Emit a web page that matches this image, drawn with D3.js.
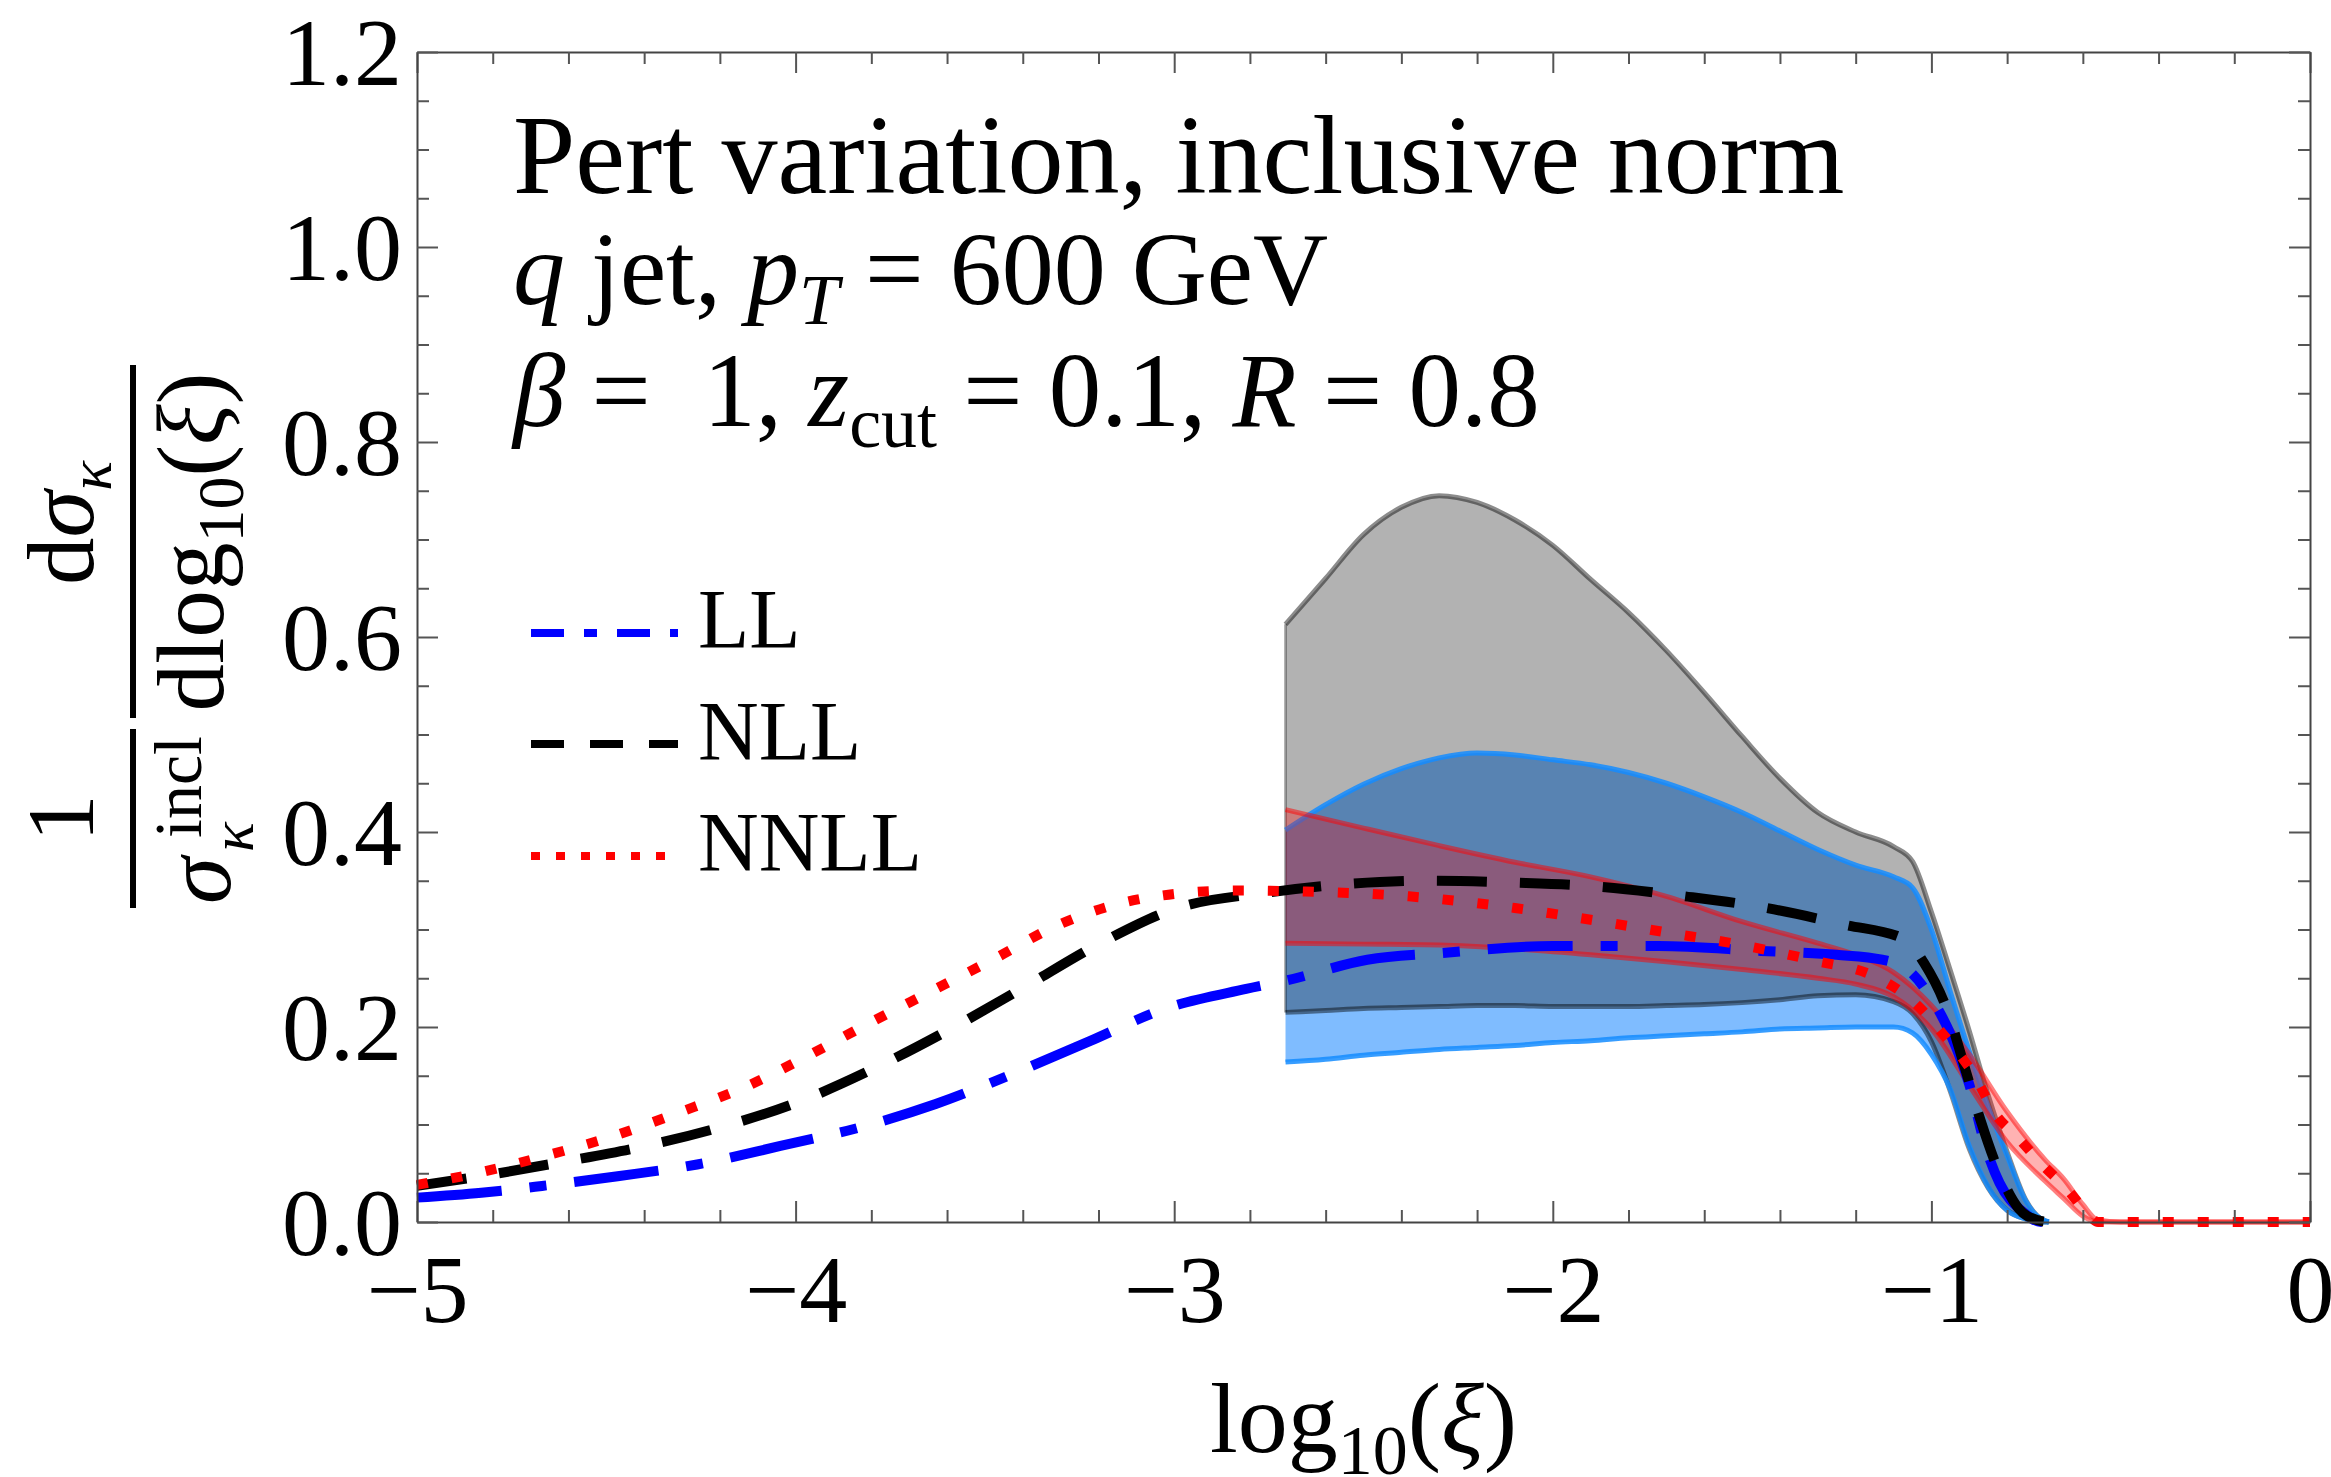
<!DOCTYPE html>
<html><head><meta charset="utf-8">
<script src="https://cdn.jsdelivr.net/npm/d3@7"></script>
<style>
body{margin:0;background:#fff}
svg{display:block}
text{font-family:"Liberation Serif","Times New Roman",serif;fill:#000}
</style>
</head><body>
<svg id="chart" width="2331" height="1477"></svg>
<script>
// ---------------- data ----------------
const xTickValues = [-5, -4, -3, -2, -1, 0];
const yTickValues = [0, 0.2, 0.4, 0.6, 0.8, 1.0, 1.2];
const seriesNames = ["LL", "NLL", "NNLL"];
const titleLines = ["Pert variation, inclusive norm"];

// central curves [log10(xi), value]
const llCurve = [[-5.0,0.025],[-4.83,0.030],[-4.67,0.037],[-4.47,0.047],[-4.26,0.059],[-4.04,0.078],[-3.83,0.097],[-3.63,0.121],[-3.42,0.153],[-3.22,0.186],[-3.03,0.218],[-2.81,0.239],[-2.70,0.248],[-2.49,0.269],[-2.29,0.276],[-2.0,0.283],[-1.72,0.283],[-1.45,0.278],[-1.25,0.274],[-1.13,0.269],[-1.06,0.258],[-1.01,0.235],[-0.95,0.193],[-0.90,0.141],[-0.856,0.076],[-0.82,0.040],[-0.76,0.011],[-0.71,0.0],[-0.69,0.0]];
const nllCurve = [[-5.0,0.037],[-4.83,0.047],[-4.61,0.062],[-4.42,0.076],[-4.20,0.097],[-4.0,0.122],[-3.79,0.158],[-3.60,0.196],[-3.40,0.240],[-3.19,0.287],[-3.0,0.321],[-2.75,0.338],[-2.53,0.347],[-2.33,0.350],[-2.10,0.348],[-1.88,0.344],[-1.65,0.334],[-1.45,0.323],[-1.23,0.305],[-1.07,0.290],[-1.02,0.266],[-0.96,0.219],[-0.91,0.156],[-0.87,0.104],[-0.82,0.050],[-0.77,0.014],[-0.72,0.002],[-0.69,0.0]];
const nnllCurve = [[-5.0,0.038],[-4.82,0.052],[-4.65,0.069],[-4.49,0.087],[-4.31,0.112],[-4.13,0.139],[-3.96,0.172],[-3.81,0.203],[-3.64,0.237],[-3.47,0.271],[-3.31,0.304],[-3.13,0.328],[-3.03,0.335],[-2.84,0.340],[-2.66,0.339],[-2.38,0.334],[-2.10,0.322],[-1.90,0.310],[-1.70,0.297],[-1.50,0.284],[-1.32,0.269],[-1.14,0.250],[-1.05,0.227],[-0.97,0.193],[-0.88,0.146],[-0.835,0.113],[-0.77,0.086],[-0.71,0.060],[-0.64,0.033],[-0.585,0.0075],[-0.56,0.0],[0.0,0.0]];

// uncertainty bands (LL = blue, NLL = gray)
const bandX    = [-2.706,-2.6,-2.5,-2.4,-2.3,-2.2,-2.1,-2.0,-1.9,-1.8,-1.7,-1.6,-1.5,-1.4,-1.3,-1.2,-1.1,-1.05,-1.0,-0.95,-0.9,-0.85,-0.8,-0.75,-0.72,-0.69];
const nllBandHi = [0.613,0.660,0.705,0.733,0.745,0.738,0.720,0.694,0.659,0.625,0.586,0.543,0.498,0.455,0.420,0.400,0.385,0.370,0.318,0.258,0.196,0.130,0.072,0.022,0.006,0.0];
const nllBandLo = [0.215,0.217,0.219,0.220,0.221,0.222,0.222,0.221,0.221,0.221,0.222,0.223,0.225,0.228,0.232,0.233,0.226,0.214,0.185,0.134,0.075,0.035,0.012,0.003,0.0,0.0];
const llBandHi  = [0.402,0.428,0.449,0.465,0.476,0.481,0.479,0.474,0.469,0.461,0.450,0.436,0.420,0.401,0.382,0.366,0.354,0.343,0.300,0.236,0.175,0.118,0.068,0.021,0.006,0.0];
const llBandLo  = [0.164,0.167,0.171,0.174,0.177,0.179,0.181,0.184,0.186,0.189,0.191,0.193,0.195,0.198,0.199,0.200,0.200,0.194,0.172,0.136,0.078,0.036,0.012,0.003,0.0,0.0];
// NNLL band (red)
const redBandX  = [-2.706,-2.5,-2.3,-2.1,-1.9,-1.7,-1.5,-1.3,-1.2,-1.1,-1.0,-0.9,-0.8,-0.7,-0.65,-0.6,-0.56,-0.5,0.0];
const nnllBandHi = [0.423,0.404,0.386,0.369,0.354,0.334,0.308,0.286,0.274,0.256,0.222,0.172,0.113,0.064,0.044,0.018,0.002,0.0,0.0];
const nnllBandLo = [0.286,0.285,0.284,0.280,0.274,0.267,0.259,0.250,0.244,0.231,0.198,0.140,0.082,0.042,0.024,0.006,0.0,0.0,0.0];

// ---------------- layout ----------------
const svg = d3.select("#chart");
const M = {l:417, r:2310, t:52, b:1222};
const x = d3.scaleLinear().domain([-5,0]).range([M.l, M.r]);
const y = d3.scaleLinear().domain([0,1.2]).range([M.b, M.t]);

const lineGen = d3.line().x(d=>x(d[0])).y(d=>y(d[1])).curve(d3.curveMonotoneX);
function bandArea(xs, lo, hi){
  const pts = xs.map((v,i)=>({x:v, lo:lo[i], hi:hi[i]}));
  return {
    area: d3.area().x(d=>x(d.x)).y0(d=>y(d.lo)).y1(d=>y(d.hi)).curve(d3.curveMonotoneX)(pts),
    hiLine: d3.line().x(d=>x(d.x)).y(d=>y(d.hi)).curve(d3.curveMonotoneX)(pts),
    loLine: d3.line().x(d=>x(d.x)).y(d=>y(d.lo)).curve(d3.curveMonotoneX)(pts)
  };
}
const gBand = bandArea(bandX, nllBandLo, nllBandHi);
const bBand = bandArea(bandX, llBandLo, llBandHi);
const rBand = bandArea(redBandX, nnllBandLo, nnllBandHi);

const plot = svg.append("g");
plot.append("path").attr("d", bBand.area).attr("fill","rgb(0,122,255)").attr("fill-opacity",0.5);
plot.append("path").attr("d", gBand.area).attr("fill","#000").attr("fill-opacity",0.3);
plot.append("line").attr("x1",x(bandX[0])).attr("x2",x(bandX[0])).attr("y1",y(nllBandLo[0])).attr("y2",y(nllBandHi[0])).attr("stroke","rgba(0,0,0,0.3)").attr("stroke-width",3);
[gBand.hiLine, gBand.loLine].forEach(d=>plot.append("path").attr("d",d).attr("fill","none").attr("stroke","rgba(0,0,0,0.45)").attr("stroke-width",5));
[bBand.hiLine, bBand.loLine].forEach(d=>plot.append("path").attr("d",d).attr("fill","none").attr("stroke","rgba(20,140,255,0.85)").attr("stroke-width",5));
plot.append("path").attr("d", rBand.area).attr("fill","rgb(255,0,0)").attr("fill-opacity",0.3);
[rBand.hiLine, rBand.loLine].forEach(d=>plot.append("path").attr("d",d).attr("fill","none").attr("stroke","rgba(255,0,0,0.5)").attr("stroke-width",5));

const styles = {
  LL:  {data: llCurve,  color:"#0000ff", dash:"85,28,17,28", legDash:"33,20,13,20"},
  NLL: {data: nllCurve, color:"#000000", dash:"50,33",        legDash:"33,26"},
  NNLL:{data: nnllCurve,color:"#ff0000", dash:"11,24",        legDash:"9,16"}
};
seriesNames.forEach(n=>{
  const s = styles[n];
  plot.append("path").attr("d", lineGen(s.data)).attr("fill","none")
    .attr("stroke", s.color).attr("stroke-width",10).attr("stroke-dasharray", s.dash)
    .attr("stroke-linecap","butt");
});

// ---------------- axes (frame with inward ticks) ----------------
const majorX = xTickValues;
const minorX = d3.range(-5, 0.0001, 0.2).map(v=>+v.toFixed(2)).filter(v=>!majorX.some(m=>Math.abs(m-v)<1e-6));
const majorY = yTickValues;
const minorY = d3.range(0, 1.2001, 0.05).map(v=>+v.toFixed(2)).filter(v=>!majorY.some(m=>Math.abs(m-v)<1e-6));
const tickColor = "#555";

function styleAxis(g){
  g.select(".domain").attr("stroke","#444").attr("stroke-width",2);
  g.selectAll(".tick line").attr("stroke",tickColor).attr("stroke-width",2);
}
function minorStyle(g){ g.select(".domain").remove(); g.selectAll(".tick line").attr("stroke",tickColor).attr("stroke-width",2); }

const axB = svg.append("g").attr("transform",`translate(0,${M.b})`)
  .call(d3.axisBottom(x).tickValues(majorX).tickSizeInner(-21).tickSizeOuter(0).tickPadding(32).tickFormat(d3.format("d")));
axB.call(styleAxis);
axB.selectAll("text").attr("font-size",96).attr("font-family","Liberation Serif").attr("fill","#000").attr("dy","0.71em");
svg.append("g").attr("transform",`translate(0,${M.b})`)
  .call(d3.axisBottom(x).tickValues(minorX).tickSizeInner(-12).tickSizeOuter(0).tickFormat("")).call(minorStyle);
svg.append("g").attr("transform",`translate(0,${M.t})`)
  .call(d3.axisTop(x).tickValues(majorX).tickSizeInner(-21).tickSizeOuter(0).tickFormat("")).call(styleAxis);
svg.append("g").attr("transform",`translate(0,${M.t})`)
  .call(d3.axisTop(x).tickValues(minorX).tickSizeInner(-12).tickSizeOuter(0).tickFormat("")).call(minorStyle);
const axL = svg.append("g").attr("transform",`translate(${M.l},0)`)
  .call(d3.axisLeft(y).tickValues(majorY).tickSizeInner(-21).tickSizeOuter(0).tickPadding(15).tickFormat(d3.format(".1f")));
axL.call(styleAxis);
axL.selectAll("text").attr("font-size",96).attr("font-family","Liberation Serif").attr("fill","#000").attr("dy","0.34em");
svg.append("g").attr("transform",`translate(${M.l},0)`)
  .call(d3.axisLeft(y).tickValues(minorY).tickSizeInner(-12).tickSizeOuter(0).tickFormat("")).call(minorStyle);
svg.append("g").attr("transform",`translate(${M.r},0)`)
  .call(d3.axisRight(y).tickValues(majorY).tickSizeInner(-21).tickSizeOuter(0).tickFormat("")).call(styleAxis);
svg.append("g").attr("transform",`translate(${M.r},0)`)
  .call(d3.axisRight(y).tickValues(minorY).tickSizeInner(-12).tickSizeOuter(0).tickFormat("")).call(minorStyle);

// ---------------- annotation text ----------------
const T = svg.append("g");
T.append("text").attr("x",513).attr("y",193).attr("font-size",112).text(titleLines[0]);
const t2 = T.append("text").attr("x",513).attr("y",304).attr("font-size",104);
t2.append("tspan").attr("font-style","italic").text("q");
t2.append("tspan").text(" jet, ");
t2.append("tspan").attr("font-style","italic").text("p");
t2.append("tspan").attr("font-style","italic").attr("font-size",72).attr("dy",20).text("T");
t2.append("tspan").attr("dy",-20).text(" = 600 GeV");
const t3 = T.append("text").attr("x",513).attr("y",426).attr("font-size",105).attr("xml:space","preserve");
t3.append("tspan").attr("font-style","italic").text("\u03B2");
t3.append("tspan").text(" =  1, ");
t3.append("tspan").attr("font-style","italic").text("z");
t3.append("tspan").attr("font-size",72).attr("dy",21).text("cut");
t3.append("tspan").attr("dy",-21).text(" = 0.1, ");
t3.append("tspan").attr("font-style","italic").text("R");
t3.append("tspan").text(" = 0.8");

// ---------------- legend ----------------
const legY = [633, 744, 856];
const legEnd = [678, 678, 666];
const legBase = [648, 760, 871];
seriesNames.forEach((n,i)=>{
  const s = styles[n];
  svg.append("line").attr("x1",531).attr("x2",legEnd[i]).attr("y1",legY[i]).attr("y2",legY[i])
    .attr("stroke",s.color).attr("stroke-width",8).attr("stroke-dasharray",s.legDash).attr("stroke-linecap","butt");
  svg.append("text").attr("x",698).attr("y",legBase[i]).attr("font-size",84).text(n);
});

// ---------------- x axis title ----------------
const xt = svg.append("text").attr("x",(M.l+M.r)/2).attr("y",1452).attr("font-size",100).attr("text-anchor","middle");
xt.append("tspan").text("log");
xt.append("tspan").attr("font-size",70).attr("dy",22).text("10");
xt.append("tspan").attr("dy",-22).text("(");
xt.append("tspan").attr("font-style","italic").text("\u03BE");
xt.append("tspan").text(")");

// ---------------- y axis title (rotated) ----------------
const yl = svg.append("g").attr("transform","translate(133,908) rotate(-90)");
yl.append("line").attr("x1",0).attr("x2",179).attr("y1",0).attr("y2",0).attr("stroke","#000").attr("stroke-width",6);
yl.append("text").attr("x",90).attr("y",-40).attr("font-size",95).attr("text-anchor","middle").text("1");
yl.append("text").attr("x",4).attr("y",97).attr("font-size",95).attr("font-style","italic").text("\u03C3");
yl.append("text").attr("x",70).attr("y",68).attr("font-size",68).text("incl");
yl.append("text").attr("x",56).attr("y",120).attr("font-size",62).attr("font-style","italic").text("\u03BA");
yl.append("line").attr("x1",190).attr("x2",543).attr("y1",0).attr("y2",0).attr("stroke","#000").attr("stroke-width",6);
const num2 = yl.append("text").attr("x",385).attr("y",-40).attr("font-size",95).attr("text-anchor","middle");
num2.append("tspan").text("d");
num2.append("tspan").attr("font-style","italic").text("\u03C3");
num2.append("tspan").attr("font-style","italic").attr("font-size",62).attr("dy",18).text("\u03BA");
const den2 = yl.append("text").attr("x",366).attr("y",90).attr("font-size",95).attr("text-anchor","middle");
den2.append("tspan").text("dlog");
den2.append("tspan").attr("font-size",66).attr("dy",20).text("10");
den2.append("tspan").attr("dy",-20).text("(");
den2.append("tspan").attr("font-style","italic").text("\u03BE");
den2.append("tspan").text(")");
</script>
</body></html>
